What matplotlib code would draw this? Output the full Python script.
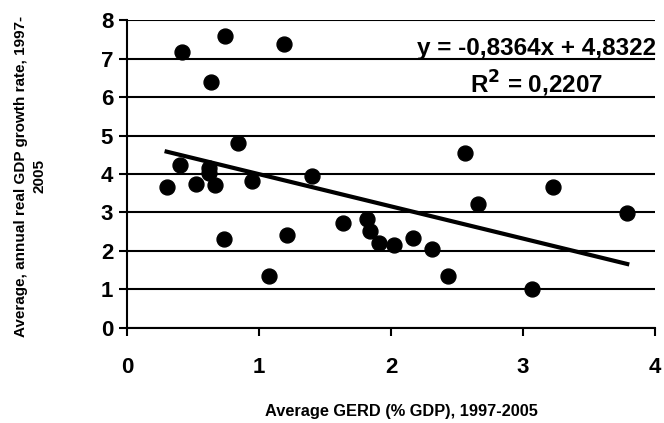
import matplotlib.pyplot as plt
import numpy as np

plt.rcParams["font.family"] = ["Liberation Sans", "DejaVu Sans"]
plt.rcParams["font.weight"] = "bold"

# GERD (% GDP) vs real GDP growth, 1997-2005
gerd = [0.30, 0.40, 0.42, 0.52, 0.62, 0.62, 0.67, 0.64, 0.74, 0.735,
        0.84, 0.95, 1.076, 1.19, 1.21, 1.40, 1.634, 1.815, 1.84, 1.91,
        2.02, 2.17, 2.31, 2.43, 2.66, 2.56, 3.07, 3.23, 3.79]
growth = [3.67, 4.23, 7.16, 3.74, 4.16, 4.02, 3.71, 6.38, 7.58, 2.31,
          4.81, 3.81, 1.36, 7.38, 2.42, 3.96, 2.74, 2.83, 2.52, 2.20,
          2.16, 2.35, 2.04, 1.36, 3.21, 4.55, 1.00, 3.65, 2.98]
slope, intercept = -0.8364, 4.8322
eq_text = "y = -0,8364x + 4,8322"
r2_text = "R$^2$ = 0,2207"

gerd = np.array(gerd)
growth = np.array(growth)

fig = plt.figure(figsize=(6.64, 4.23), dpi=100)
ax = fig.add_axes([0.1913, 0.2246, 0.7951, 0.7281])

ax.yaxis.grid(True, color="black", linewidth=1.5)
ax.set_axisbelow(True)
ax.scatter(gerd, growth, s=115, color="black", zorder=3)

xs = np.array([gerd.min(), gerd.max()])
ax.plot(xs, slope * xs + intercept, color="black", linewidth=3, zorder=2)

ax.set_xlim(0, 4)
ax.set_ylim(0, 8)
ax.set_xticks([0, 1, 2, 3, 4])
ax.set_yticks(range(9))
for s in ["top", "right"]:
    ax.spines[s].set_visible(False)
ax.spines["left"].set_linewidth(1.5)
ax.spines["bottom"].set_linewidth(1.5)
ax.tick_params(axis="both", length=6, width=1.5, labelsize=16)
ax.tick_params(axis="x", pad=15)
ax.tick_params(axis="y", pad=4)

ax.text(3.1, 7.27, eq_text, fontsize=17.5, fontweight="bold", ha="center", va="center")
ax.text(3.1, 6.34, r2_text, fontsize=17.5, fontweight="bold", ha="center", va="center")

fig.text(401 / 664, 1 - 411 / 423, "Average GERD (% GDP), 1997-2005",
         fontsize=11.75, fontweight="bold", ha="center", va="center")
fig.text(30 / 664, 1 - 176 / 423, "Average, annual real GDP growth rate, 1997-\n2005",
         fontsize=11, fontweight="bold", ha="center", va="center", rotation=90,
         linespacing=1.4)

fig.savefig("out.png", dpi=100)
